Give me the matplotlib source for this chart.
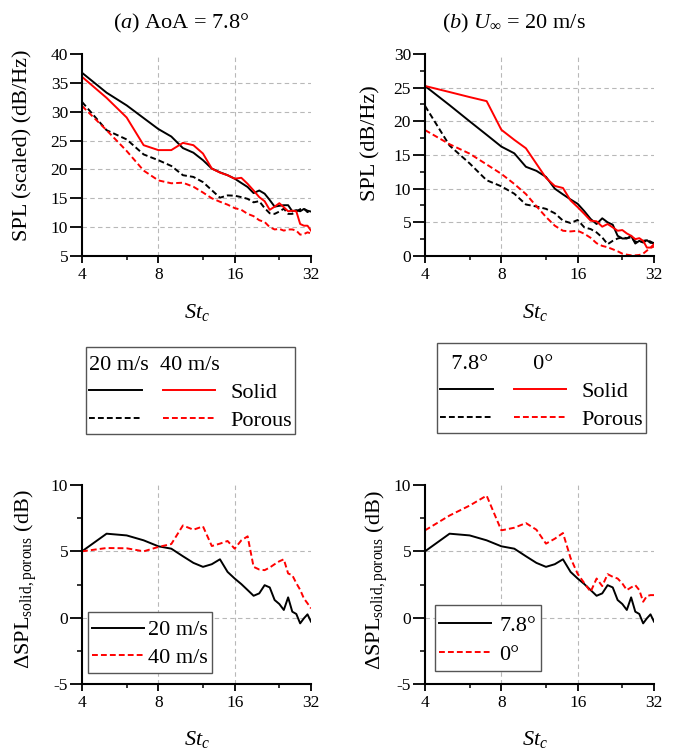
import numpy as np
import matplotlib
matplotlib.use("Agg")
import matplotlib.pyplot as plt
from matplotlib.ticker import FixedLocator, FixedFormatter, NullFormatter, NullLocator
from matplotlib.legend_handler import HandlerTuple
from matplotlib.path import Path

plt.rcParams['font.family'] = ['Liberation Serif', 'DejaVu Serif']
plt.rcParams['mathtext.fontset'] = 'custom'
plt.rcParams['mathtext.rm'] = 'Liberation Serif'
plt.rcParams['mathtext.it'] = 'Liberation Serif:italic'
plt.rcParams['mathtext.bf'] = 'Liberation Serif:bold'
plt.rcParams['axes.unicode_minus'] = False

# ---------------- data ----------------
st = [4, 5, 6, 7, 8, 9, 10, 11, 12, 13, 14, 15, 16, 17, 18, 19, 20,
      21, 22, 23, 24, 25, 26, 27, 28, 29, 30, 31, 32]

# (a) AoA = 7.8 deg, scaled SPL
a_solid_20 = [36.75, 33.3, 31.1, 28.9, 27.0, 25.7, 23.7, 22.9, 21.6, 20.15, 19.5, 19.0,
              18.4, 17.65, 16.95, 15.9, 16.35, 15.8, 14.7, 13.55, 13.7, 13.8, 13.8,
              12.75, 12.95, 12.75, 13.15, 12.85, 12.7]
a_porous_20 = [31.7, 26.8, 25.2, 22.6, 21.6, 20.6, 19.0, 18.7, 17.8, 16.4, 15.1, 15.5,
               15.45, 15.2, 14.9, 14.3, 14.5, 13.3, 12.4, 12.3, 12.7, 13.2, 12.3,
               12.3, 12.7, 13.1, 13.2, 12.6, 12.9]
a_solid_40 = [36.05, 32.4, 29.0, 24.2, 23.35, 23.35, 24.6, 24.2, 22.75, 20.15, 19.45, 19.0,
              18.4, 18.55, 17.5, 16.35, 15.2, 14.5, 13.0, 13.55, 14.15, 13.45, 12.75,
              12.85, 12.75, 10.55, 10.25, 10.25, 9.4]
a_porous_40 = [31.0, 26.8, 23.2, 19.8, 18.1, 17.6, 17.7, 17.0, 16.0, 15.0, 14.4, 13.9,
               13.3, 13.0, 12.3, 11.9, 11.2, 10.9, 10.0, 9.6, 9.7, 9.4, 9.6,
               9.6, 9.4, 8.7, 8.8, 9.1, 8.9]

# (b) U = 20 m/s
b_solid_78 = [25.25, 22.4, 20.0, 18.0, 16.25, 15.25, 13.25, 12.65, 11.75, 10.0, 9.15, 8.4,
              7.75, 6.65, 5.5, 4.75, 5.6, 5.0, 4.65, 3.0, 2.6, 2.6, 3.0,
              1.85, 2.25, 2.0, 2.35, 1.95, 1.95]
b_porous_78 = [22.3, 16.4, 13.75, 11.25, 10.35, 9.25, 7.65, 7.35, 7.0, 6.35, 5.25, 4.9,
               5.35, 4.25, 4.0, 3.5, 2.75, 1.75, 2.25, 2.6, 2.75, 2.65, 2.75,
               2.15, 2.0, 2.25, 2.35, 2.15, 1.85]
b_solid_0 = [25.25, 24.35, 23.6, 23.0, 18.75, 17.25, 16.0, 13.7, 11.6, 10.4, 10.1, 8.25,
             7.25, 6.25, 5.25, 5.15, 4.35, 4.75, 4.25, 3.75, 3.85, 3.35, 3.0,
             2.5, 2.65, 2.25, 1.25, 1.25, 1.75]
b_porous_0 = [18.7, 16.6, 15.2, 13.6, 12.2, 10.7, 9.2, 7.4, 5.8, 4.5, 3.75, 3.65,
              3.75, 3.3, 2.7, 1.9, 1.5, 1.3, 1.0, 0.7, 0.35, 0.2, 0.1,
              0.1, 0.15, 0.35, 0.8, 1.2, 1.4]

# (c) Delta SPL, AoA = 7.8 deg
c_diff_20 = [5.0, 6.33, 6.2, 5.83, 5.38, 5.2, 4.63, 4.13, 3.83, 4.03, 4.4, 3.45,
             2.95, 2.53, 2.08, 1.65, 1.83, 2.45, 2.28, 1.33, 1.03, 0.58, 1.53,
             0.45, 0.28, -0.43, -0.05, 0.25, -0.3]
c_diff_40 = [5.0, 5.25, 5.23, 5.0, 5.33, 5.55, 6.95, 6.63, 6.88, 5.4, 5.58, 5.78,
             5.2, 5.83, 6.13, 3.83, 3.63, 3.58, 3.78, 4.03, 4.25, 4.4, 3.33,
             3.2, 2.6, 2.1, 1.45, 1.08, 0.7]

# (d) Delta SPL, U = 20 m/s
d_diff_78 = [5.0, 6.33, 6.2, 5.83, 5.38, 5.2, 4.63, 4.13, 3.83, 4.03, 4.4, 3.45,
             2.95, 2.53, 2.08, 1.65, 1.83, 2.45, 2.28, 1.33, 1.03, 0.58, 1.53,
             0.45, 0.28, -0.43, -0.05, 0.25, -0.3]
d_diff_0 = [6.58, 7.7, 8.45, 9.2, 6.58, 6.78, 7.13, 6.63, 5.58, 5.95, 6.38, 4.5,
            3.3, 2.6, 1.95, 2.95, 2.38, 3.28, 3.08, 2.95, 2.58, 2.08, 2.28,
            2.45, 2.08, 1.2, 1.63, 1.7, 1.7]

x_major = [4, 8, 16, 32]
x_minor = [6, 12, 24]

# ---------------- styling ----------------
W, H = 675, 753
LW = 1.4
DASH = (0, (3, 1.6))
RED = '#ff0000'
FS_TICK = 12.5
FS_LAB = 16
EDGE = '#555555'


def ax_at(left, top, width, height):
    return fig.add_axes([left / W, 1 - (top + height) / H, width / W, height / H])


def ext_box(top=0.0, bottom=0.0):
    """Square legend frame, padded further above / below (in pixels)."""
    def box(x0, y0, width, height, mutation_size):
        x1 = x0 + width
        ya = y0 - bottom
        yb = y0 + height + top
        return Path([(x0, ya), (x1, ya), (x1, yb), (x0, yb), (x0, ya)], closed=True)
    return box


def setup(ax, ylo, yhi, major, minor):
    ax.set_xscale('log', base=2)
    ax.set_xlim(x_major[0], x_major[-1])
    ax.xaxis.set_major_locator(FixedLocator(x_major))
    ax.xaxis.set_major_formatter(FixedFormatter([str(v) for v in x_major]))
    ax.xaxis.set_minor_locator(FixedLocator(x_minor))
    ax.xaxis.set_minor_formatter(NullFormatter())
    ax.set_ylim(ylo, yhi)
    yt = list(np.arange(ylo, yhi + 1e-9, major))
    ax.yaxis.set_major_locator(FixedLocator(yt))
    ax.yaxis.set_major_formatter(FixedFormatter(['%g' % v for v in yt]))
    if minor:
        ym = [v + major / 2 for v in yt[:-1]]
        ax.yaxis.set_minor_locator(FixedLocator(ym))
    else:
        ax.yaxis.set_minor_locator(NullLocator())
    for s in ('top', 'right'):
        ax.spines[s].set_visible(False)
    for s in ('left', 'bottom'):
        ax.spines[s].set_linewidth(1.5)
    ax.tick_params(which='both', direction='out', labelsize=FS_TICK, color='black')
    ax.tick_params(axis='x', which='major', length=5, width=1.3, pad=3)
    ax.tick_params(axis='x', which='minor', length=3, width=1.1)
    ax.tick_params(axis='y', which='major', length=8.5, width=1.3, pad=1.5)
    ax.tick_params(axis='y', which='minor', length=3.6, width=1.1)
    ax.set_axisbelow(True)
    ax.grid(True, which='major', color='#b8b8b8', lw=0.8, ls=(0, (4, 3)))
    for t, loc in zip(ax.xaxis.get_major_ticks(), x_major):
        if loc in (x_major[0], x_major[-1]):
            t.gridline.set_visible(False)
    for t, loc in zip(ax.yaxis.get_major_ticks(), yt):
        if loc in (ylo, yhi):
            t.gridline.set_visible(False)


fig = plt.figure(figsize=(W / 100, H / 100), dpi=100)

axa = ax_at(82, 54, 229, 202)
axb = ax_at(425, 54, 229, 202)
axc = ax_at(82, 485, 229, 199)
axd = ax_at(425, 485, 229, 199)

setup(axa, 5, 40, 5, False)
setup(axb, 0, 30, 5, True)
setup(axc, -5, 10, 5, True)
setup(axd, -5, 10, 5, True)

# (a)
la_s20, = axa.plot(st, a_solid_20, color='black', lw=LW)
la_p20, = axa.plot(st, a_porous_20, color='black', lw=LW, ls=DASH)
la_s40, = axa.plot(st, a_solid_40, color=RED, lw=LW)
la_p40, = axa.plot(st, a_porous_40, color=RED, lw=LW, ls=DASH)

# (b)
lb_s78, = axb.plot(st, b_solid_78, color='black', lw=LW)
lb_p78, = axb.plot(st, b_porous_78, color='black', lw=LW, ls=DASH)
lb_s0, = axb.plot(st, b_solid_0, color=RED, lw=LW)
lb_p0, = axb.plot(st, b_porous_0, color=RED, lw=LW, ls=DASH)

# (c)
lc20, = axc.plot(st, c_diff_20, color='black', lw=LW, label='20 m/s')
lc40, = axc.plot(st, c_diff_40, color=RED, lw=LW, ls=DASH, label='40 m/s')
# (d)
ld78, = axd.plot(st, d_diff_78, color='black', lw=LW, label='7.8°')
ld0, = axd.plot(st, d_diff_0, color=RED, lw=LW, ls=DASH, label='0°')

leg_kw = dict(fontsize=FS_LAB, fancybox=False, edgecolor=EDGE, framealpha=1,
              borderaxespad=0, loc='lower left', handlelength=2.3, borderpad=0.2)
lc = axc.legend(handles=[lc20, lc40], bbox_to_anchor=(6 / 229, 12 / 199),
                handletextpad=0.2, labelspacing=0.3, **leg_kw)
ld = axd.legend(handles=[ld78, ld0], bbox_to_anchor=(10 / 229, 15 / 199),
                handletextpad=0.4, labelspacing=0.38, **leg_kw)
lc.get_frame().set_boxstyle(ext_box(top=3, bottom=1))
ld.get_frame().set_boxstyle(ext_box(top=6, bottom=2))
for lg in (lc, ld):
    lg.get_frame().set_linewidth(1.0)

# middle legends (line-style keys)
mid_kw = dict(fontsize=FS_LAB, title_fontsize=FS_LAB, fancybox=False,
              edgecolor=EDGE, framealpha=1, loc='upper left',
              alignment='left', handlelength=5.65, handletextpad=0.7,
              borderpad=0.15, labelspacing=0.33, borderaxespad=0,
              handler_map={tuple: HandlerTuple(ndivide=None, pad=0.95)})
m1 = fig.legend(handles=[(la_s20, la_s40), (la_p20, la_p40)], labels=['Solid', 'Porous'],
                title='20 m/s  40 m/s', bbox_to_anchor=(86 / W, 1 - 353 / H), **mid_kw)
m2 = fig.legend(handles=[(lb_s78, lb_s0), (lb_p78, lb_p0)], labels=['Solid', 'Porous'],
                title='  7.8°        0°', bbox_to_anchor=(437 / W, 1 - 352 / H), **mid_kw)
m1.get_frame().set_boxstyle(ext_box(top=6, bottom=0))
m2.get_frame().set_boxstyle(ext_box(top=9, bottom=0))
for lg in (m1, m2):
    lg.get_frame().set_linewidth(1.0)

# titles and axis labels
fig.text(181 / W, 1 - 28 / H, r'($a$) AoA = 7.8°', ha='center', va='baseline', fontsize=FS_LAB)
fig.text(513.5 / W, 1 - 28 / H, r'($b$) $U_\infty$ = 20 m/s', ha='center', va='baseline', fontsize=FS_LAB)

fig.text(23 / W, 1 - 145 / H, 'SPL (scaled) (dB/Hz)', rotation=90, ha='center', va='center', fontsize=FS_LAB)
fig.text(371 / W, 1 - 143 / H, 'SPL (dB/Hz)', rotation=90, ha='center', va='center', fontsize=FS_LAB)
dl = r'$\Delta$SPL$_{\mathrm{solid,porous}}$ (dB)'
fig.text(26 / W, 1 - 579 / H, dl, rotation=90, ha='center', va='center', fontsize=FS_LAB)
fig.text(377 / W, 1 - 580 / H, dl, rotation=90, ha='center', va='center', fontsize=FS_LAB)

for xc, yb in ((197, 318), (535, 318), (197, 745), (535, 745)):
    fig.text(xc / W, 1 - yb / H, r'$St_c$', ha='center', va='baseline', fontsize=FS_LAB)

fig.savefig('out.png', dpi=100)
